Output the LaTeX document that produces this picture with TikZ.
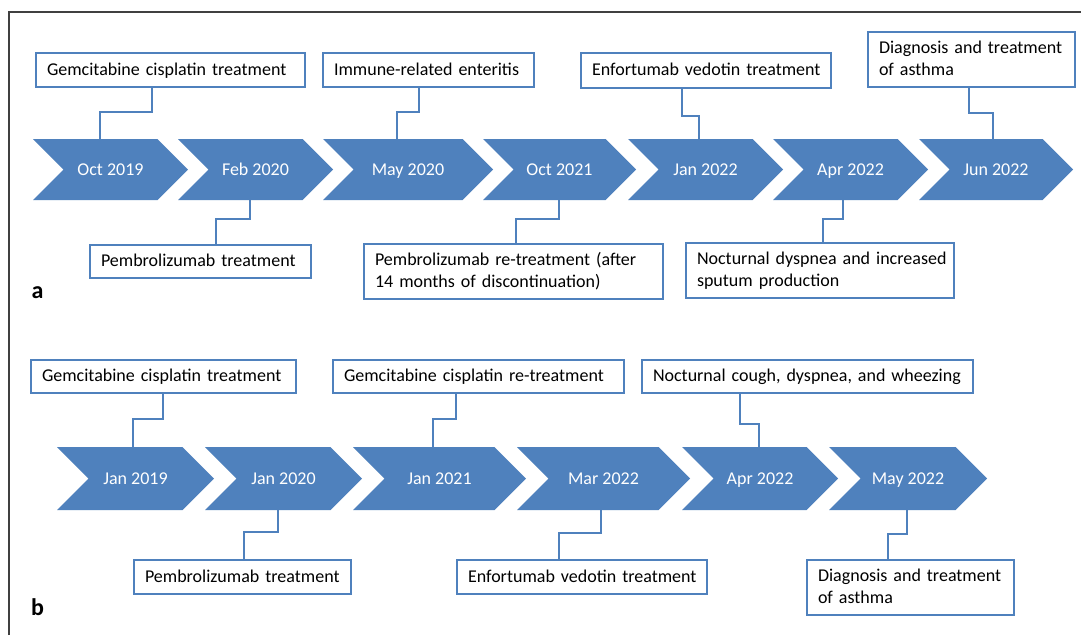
\documentclass[tikz,border=0pt]{standalone}
\usepackage{fontspec}
\setmainfont{Carlito}
\definecolor{ofblue}{HTML}{4F81BD}
\definecolor{frame}{HTML}{404040}
\tikzset{
  chevfill/.style={fill=ofblue, draw=none},
  chevtext/.style={inner sep=0pt, text=white, font=\fontsize{18}{22}\selectfont,
     text height=11.6pt, text depth=0pt},
  evbox/.style={draw=ofblue, line width=2pt, fill=white, anchor=north west, align=left,
     inner xsep=11pt, inner ysep=0pt, font=\fontsize{18}{22}\selectfont, text=black,
     text height=10.5pt, text depth=0pt},
  twoline/.style={text depth=22pt},
  conn/.style={draw=ofblue, line width=2.4pt},
  panellabel/.style={inner sep=0pt, font=\fontsize{24}{26}\selectfont\bfseries},
}
% \mkchev{name}{left}{tip}{top}{bottom}{text}
\newcommand\mkchev[6]{%
  \pgfmathsetmacro\ymid{(#4+#5)/2}%
  \pgfmathsetmacro\dep{(#5-#4)/2}%
  \pgfmathsetmacro\xc{(#2+#3)/2}%
  \pgfmathsetmacro\hh{#5-#4}%
  \fill[chevfill] (#2,#4) -- ({#3-\dep},#4) -- (#3,\ymid) -- ({#3-\dep},#5) -- (#2,#5) -- ({#2+\dep},\ymid) -- cycle;
  \node[chevtext, minimum height=\hh pt] (#1) at (\xc,\ymid) {#6};
}
% \mkbox[extra style]{name}{left}{top}{right}{bottom}{text}
\newcommand\mkbox[7][]{%
  \pgfmathsetmacro\tw{#5-#3-22}%
  \pgfmathsetmacro\bh{#6-#4}%
  \node[evbox, text width=\tw pt, minimum height=\bh pt, #1] (#2) at (#3,#4)
     {\begin{tabular}[t]{@{}l@{}}#7\end{tabular}};
}
\begin{document}
\begin{tikzpicture}[x=1pt, y=-1pt]
\useasboundingbox (0,0) rectangle (1081,635);
\fill[white] (0,0) rectangle (1081,635);
\draw[frame, line width=1.2pt] (9,635) -- (9,12) -- (1081,12);

% ---------- panel a ----------
\mkchev{c1}{33}{188}{139}{200}{Oct 2019}
\mkchev{c2}{178}{333}{139}{200}{Feb 2020}
\mkchev{c3}{323}{493}{139}{200}{May 2020}
\mkchev{c4}{483}{636}{139}{200}{Oct 2021}
\mkchev{c5}{628}{783}{139}{200}{Jan 2022}
\mkchev{c6}{773}{928}{139}{200}{Apr 2022}
\mkchev{c7}{919}{1073}{139}{200}{Jun 2022}

\mkbox{A1}{35}{52}{304}{86}{Gemcitabine cisplatin treatment}
\mkbox{A2}{322}{52}{533}{86}{Immune-related enteritis}
\mkbox{A3}{580}{52}{830}{87}{Enfortumab vedotin treatment}
\mkbox[twoline]{A4}{867}{31}{1074}{86}{Diagnosis and treatment\\of asthma}
\mkbox{A5}{89}{244}{310}{277}{Pembrolizumab treatment}
\mkbox[twoline]{A6}{363}{243}{662}{298}{Pembrolizumab re-treatment (after\\14 months of discontinuation)}
\mkbox[twoline]{A7}{685}{242}{953}{297}{Nocturnal dyspnea and increased\\sputum production}

\draw[conn] (A1.south -| 152,0) -- (152,112) -- (100,112) -- (c1.north -| 100,0);
\draw[conn] (A2.south -| 419,0) -- (419,112) -- (397,112) -- (c3.north -| 397,0);
\draw[conn] (A3.south -| 682,0) -- (682,116) -- (699,116) -- (c5.north -| 699,0);
\draw[conn] (A4.south -| 969,0) -- (969,113) -- (993,113) -- (c7.north -| 993,0);
\draw[conn] (c2.south -| 250,0) -- (250,219) -- (216,219) -- (A5.north -| 216,0);
\draw[conn] (c4.south -| 559,0) -- (559,219) -- (516,219) -- (A6.north -| 516,0);
\draw[conn] (c6.south -| 843,0) -- (843,219) -- (823,219) -- (A7.north -| 823,0);

\node[panellabel] (la) at (37.5,293) {a};

% ---------- panel b ----------
\mkchev{d1}{57}{214}{447}{510}{Jan 2019}
\mkchev{d2}{205}{362}{447}{510}{Jan 2020}
\mkchev{d3}{353}{526}{447}{510}{Jan 2021}
\mkchev{d4}{517}{690}{447}{510}{Mar 2022}
\mkchev{d5}{682}{838}{447}{510}{Apr 2022}
\mkchev{d6}{829}{987}{447}{510}{May 2022}

\mkbox{B1}{30}{359}{295}{392}{Gemcitabine cisplatin treatment}
\mkbox{B2}{332}{359}{623}{392}{Gemcitabine cisplatin re-treatment}
\mkbox{B3}{641}{359}{972}{392}{Nocturnal cough, dyspnea, and wheezing}
\mkbox{B4}{133}{559}{350}{593}{Pembrolizumab treatment}
\mkbox{B5}{456}{559}{706}{593}{Enfortumab vedotin treatment}
\mkbox[twoline]{B6}{806}{559}{1013}{614}{Diagnosis and treatment\\of asthma}

\draw[conn] (B1.south -| 163,0) -- (163,419) -- (133,419) -- (d1.north -| 133,0);
\draw[conn] (B2.south -| 456,0) -- (456,419) -- (433,419) -- (d3.north -| 433,0);
\draw[conn] (B3.south -| 740,0) -- (740,424) -- (759,424) -- (d5.north -| 759,0);
\draw[conn] (d2.south -| 278,0) -- (278,532) -- (244,532) -- (B4.north -| 244,0);
\draw[conn] (d4.south -| 601,0) -- (601,533) -- (559,533) -- (B5.north -| 559,0);
\draw[conn] (d6.south -| 907,0) -- (907,534) -- (888,534) -- (B6.north -| 888,0);

\node[panellabel] (lb) at (37.5,607) {b};
\end{tikzpicture}
\end{document}
